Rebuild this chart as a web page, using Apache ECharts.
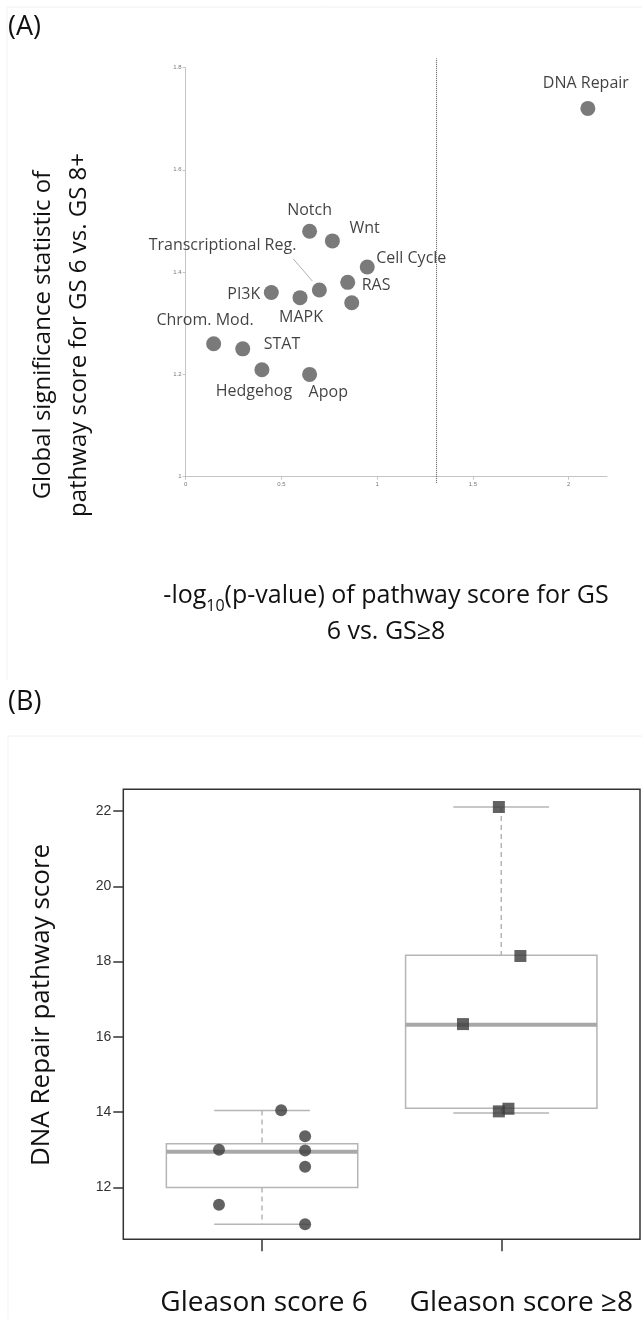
<!DOCTYPE html>
<html><head><meta charset="utf-8">
<script src="https://cdn.jsdelivr.net/npm/echarts@6/dist/echarts.min.js"></script>
<style>html,body{margin:0;padding:0;background:#fff}#c{width:642px;height:1319px}</style>
</head><body><div id="c"></div>
<script>
// ---------- Panel A data ----------
const pathwayNames = ['DNA Repair','Notch','Wnt','Cell Cycle','RAS','','Transcriptional Reg.','PI3K','MAPK','Chrom. Mod.','STAT','Hedgehog','Apop'];
const pathwayX = [2.10,0.647,0.766,0.948,0.846,0.867,0.698,0.447,0.597,0.146,0.298,0.398,0.647];
const pathwayY = [1.72,1.48,1.461,1.41,1.38,1.34,1.365,1.36,1.35,1.26,1.25,1.209,1.20];
const thresholdX = 1.31;
const aXTicks = [0,0.5,1,1.5,2];
const aYTicks = [1,1.2,1.4,1.6,1.8];

// ---------- Panel B data ----------
const groups = ['Gleason score 6','Gleason score \u22658'];
const gs6X = [1.08,1.18,0.82,1.18,1.18,0.82,1.18];
const gs6Y = [14.05,13.36,13.0,12.98,12.55,11.54,11.02];
const gs8X = [1.99,2.08,1.84,1.99,2.03];
const gs8Y = [22.11,18.15,16.34,14.02,14.09];
// [low whisker, Q1, median, Q3, high whisker]
const boxStats = [[11.02,12.0,12.95,13.16,14.04],[13.98,14.1,16.32,18.17,22.11]];
const bYTicks = [12,14,16,18,20,22];

// ---------- styles ----------
const labelPlace = {
  'DNA Repair':['center',-2,-25],
  'Notch':['center',0,-21],
  'Wnt':['left',17,-12],
  'Cell Cycle':['left',9,-9],
  'RAS':['left',14,3],
  'Transcriptional Reg.':['right',-23,-45],
  'PI3K':['right',-11,2],
  'MAPK':['center',1,20],
  'Chrom. Mod.':['right',40,-23],
  'STAT':['left',21,-4],
  'Hedgehog':['center',-8,22],
  'Apop':['left',-1,18]
};
const LF = '"Open Sans", Lato, sans-serif';

const chart = echarts.init(document.getElementById('c'), null, {renderer:'canvas'});

const aData = pathwayNames.map((n,i)=>{
  const p = labelPlace[n];
  const item = {name:n, value:[pathwayX[i], pathwayY[i]]};
  if (p) {
    item.label = {show:true, position:'inside', align:p[0], verticalAlign:'middle', offset:[p[1],p[2]], formatter:n};
  } else {
    item.label = {show:false};
  }
  return item;
});

const option = {
  animation:false,
  backgroundColor:'#fff',
  grid:[
    {left:185.7, top:67.5, width:421.3, height:409.2},
    {left:123.3, top:789.3, width:516.7, height:450, show:true, borderColor:'#333', borderWidth:1.5}
  ],
  xAxis:[
    {gridIndex:0, type:'value', min:0, max:2.2,
     axisLine:{show:true, lineStyle:{color:'#c4c4c4', width:1}},
     axisTick:{show:true, length:3, lineStyle:{color:'#c4c4c4'}, customValues:aXTicks},
     axisLabel:{fontSize:6, color:'#777', margin:5, customValues:aXTicks},
     splitLine:{show:false}},
    {gridIndex:1, type:'value', min:0.42, max:2.58,
     axisLine:{show:false},
     axisTick:{show:true, length:12, inside:false, lineStyle:{color:'#333', width:1.5}, customValues:[1,2]},
     axisLabel:{customValues:[1,2], margin:50, fontSize:28, fontFamily:LF, color:'#111',
       formatter:v=>Math.round(v)===1 ? '{a|'+groups[0]+'}' : '{b|'+groups[1]+'}',
       rich:{a:{fontSize:28, fontFamily:LF, color:'#111', padding:[0,0,0,4]},
             b:{fontSize:28, fontFamily:LF, color:'#111', padding:[0,0,0,40]}}},
     splitLine:{show:false}}
  ],
  yAxis:[
    {gridIndex:0, type:'value', min:1, max:1.8,
     axisLine:{show:true, lineStyle:{color:'#c4c4c4', width:1}},
     axisTick:{show:true, length:3, lineStyle:{color:'#c4c4c4'}, customValues:aYTicks},
     axisLabel:{fontSize:6, color:'#777', margin:4, customValues:aYTicks},
     splitLine:{show:false}},
    {gridIndex:1, type:'value', min:10.62, max:22.58,
     axisLine:{show:false},
     axisTick:{show:true, length:10, lineStyle:{color:'#333', width:1.5}, customValues:bYTicks},
     axisLabel:{customValues:bYTicks, fontSize:14, fontFamily:'"Liberation Sans", Arial, sans-serif', color:'#333', margin:12},
     splitLine:{show:false}}
  ],
  series:[
    {type:'line', xAxisIndex:0, yAxisIndex:0, clip:false, symbol:'none', silent:true,
     data:[[thresholdX,0.988],[thresholdX,1.818]],
     lineStyle:{color:'#555', width:1, type:'dotted'}},
    {type:'custom', xAxisIndex:0, yAxisIndex:0, silent:true,
     data:aData.filter(d=>d.name==='Transcriptional Reg.').map(d=>d.value),
     renderItem:(params, api)=>{
       const c = api.coord([api.value(0), api.value(1)]);
       return {type:'line', shape:{x1:c[0]-7, y1:c[1]-9, x2:c[0]-26, y2:c[1]-31},
               style:{stroke:'#9a9a9a', lineWidth:0.8}};
     }},
    {type:'scatter', xAxisIndex:0, yAxisIndex:0, symbolSize:15,
     itemStyle:{color:'#595959'},
     label:{fontSize:16, fontFamily:LF, color:'#111'},
     data:aData},
    {type:'custom', xAxisIndex:1, yAxisIndex:1, silent:true,
     data:boxStats.map((s,i)=>[i+1].concat(s)),
     renderItem:(params, api)=>{
       const x = api.value(0);
       const v = [1,2,3,4,5].map(k=>api.value(k));
       const P = (dx,y)=>api.coord([x+dx,y]);
       const grey = '#b5b5b5';
       const lo = P(0,v[0]), q1l = P(-0.4,v[1]), q1r = P(0.4,v[1]);
       const q3l = P(-0.4,v[3]), q3r = P(0.4,v[3]);
       const medl = P(-0.4,v[2]), medr = P(0.4,v[2]);
       const hi = P(0,v[4]);
       const capLoL = P(-0.2,v[0]), capLoR = P(0.2,v[0]);
       const capHiL = P(-0.2,v[4]), capHiR = P(0.2,v[4]);
       const q1c = P(0,v[1]), q3c = P(0,v[3]);
       return {type:'group', children:[
         {type:'line', shape:{x1:hi[0],y1:hi[1],x2:q3c[0],y2:q3c[1]}, style:{stroke:grey,lineWidth:1.5,lineDash:[5,4]}},
         {type:'line', shape:{x1:q1c[0],y1:q1c[1],x2:lo[0],y2:lo[1]}, style:{stroke:grey,lineWidth:1.5,lineDash:[5,4]}},
         {type:'line', shape:{x1:capHiL[0],y1:capHiL[1],x2:capHiR[0],y2:capHiR[1]}, style:{stroke:grey,lineWidth:1.5}},
         {type:'line', shape:{x1:capLoL[0],y1:capLoL[1],x2:capLoR[0],y2:capLoR[1]}, style:{stroke:grey,lineWidth:1.5}},
         {type:'rect', shape:{x:q3l[0], y:q3l[1], width:q3r[0]-q3l[0], height:q1l[1]-q3l[1]}, style:{stroke:grey, fill:'none', lineWidth:1.5}},
         {type:'line', shape:{x1:medl[0],y1:medl[1],x2:medr[0],y2:medr[1]}, style:{stroke:'#a8a8a8',lineWidth:4}}
       ]};
     }},
    {type:'scatter', xAxisIndex:1, yAxisIndex:1, symbol:'circle', symbolSize:12,
     itemStyle:{color:'#3b3b3b'}, data:gs6X.map((x,i)=>[x,gs6Y[i]])},
    {type:'scatter', xAxisIndex:1, yAxisIndex:1, symbol:'rect', symbolSize:12,
     itemStyle:{color:'#3b3b3b'}, data:gs8X.map((x,i)=>[x,gs8Y[i]])}
  ],
  graphic:[
    {type:'line', shape:{x1:7,y1:7,x2:642,y2:7}, style:{stroke:'#f0f0f0', lineWidth:1}, silent:true},
    {type:'line', shape:{x1:7,y1:7,x2:7,y2:680}, style:{stroke:'#f3f3f3', lineWidth:1}, silent:true},
    {type:'line', shape:{x1:8,y1:736,x2:642,y2:736}, style:{stroke:'#f0f0f0', lineWidth:1}, silent:true},
    {type:'line', shape:{x1:8,y1:736,x2:8,y2:1319}, style:{stroke:'#f3f3f3', lineWidth:1}, silent:true},
    {type:'text', left:8, top:14, style:{text:'(A)', font:'27px '+LF, fill:'#111'}},
    {type:'text', left:8, top:689, style:{text:'(B)', font:'27px '+LF, fill:'#111'}},
    {type:'text', x:61, y:335, rotation:Math.PI/2,
     style:{text:'Global significance statistic of\npathway score for GS 6 vs. GS 8+', font:'24px '+LF, fill:'#111',
            align:'center', verticalAlign:'middle', lineHeight:36}},
    {type:'text', x:386, y:614,
     style:{text:'-log{sub|10}(p-value) of pathway score for GS\n6 vs. GS\u22658', font:'25px '+LF, fill:'#111',
            align:'center', verticalAlign:'middle', lineHeight:36,
            rich:{sub:{fontSize:16, verticalAlign:'bottom', padding:[10,0,0,0], fontFamily:LF}}}},
    {type:'text', x:42, y:1005, rotation:Math.PI/2,
     style:{text:'DNA Repair pathway score', font:'26px '+LF, fill:'#111', align:'center', verticalAlign:'middle'}}
  ]
};
chart.setOption(option);
</script></body></html>
